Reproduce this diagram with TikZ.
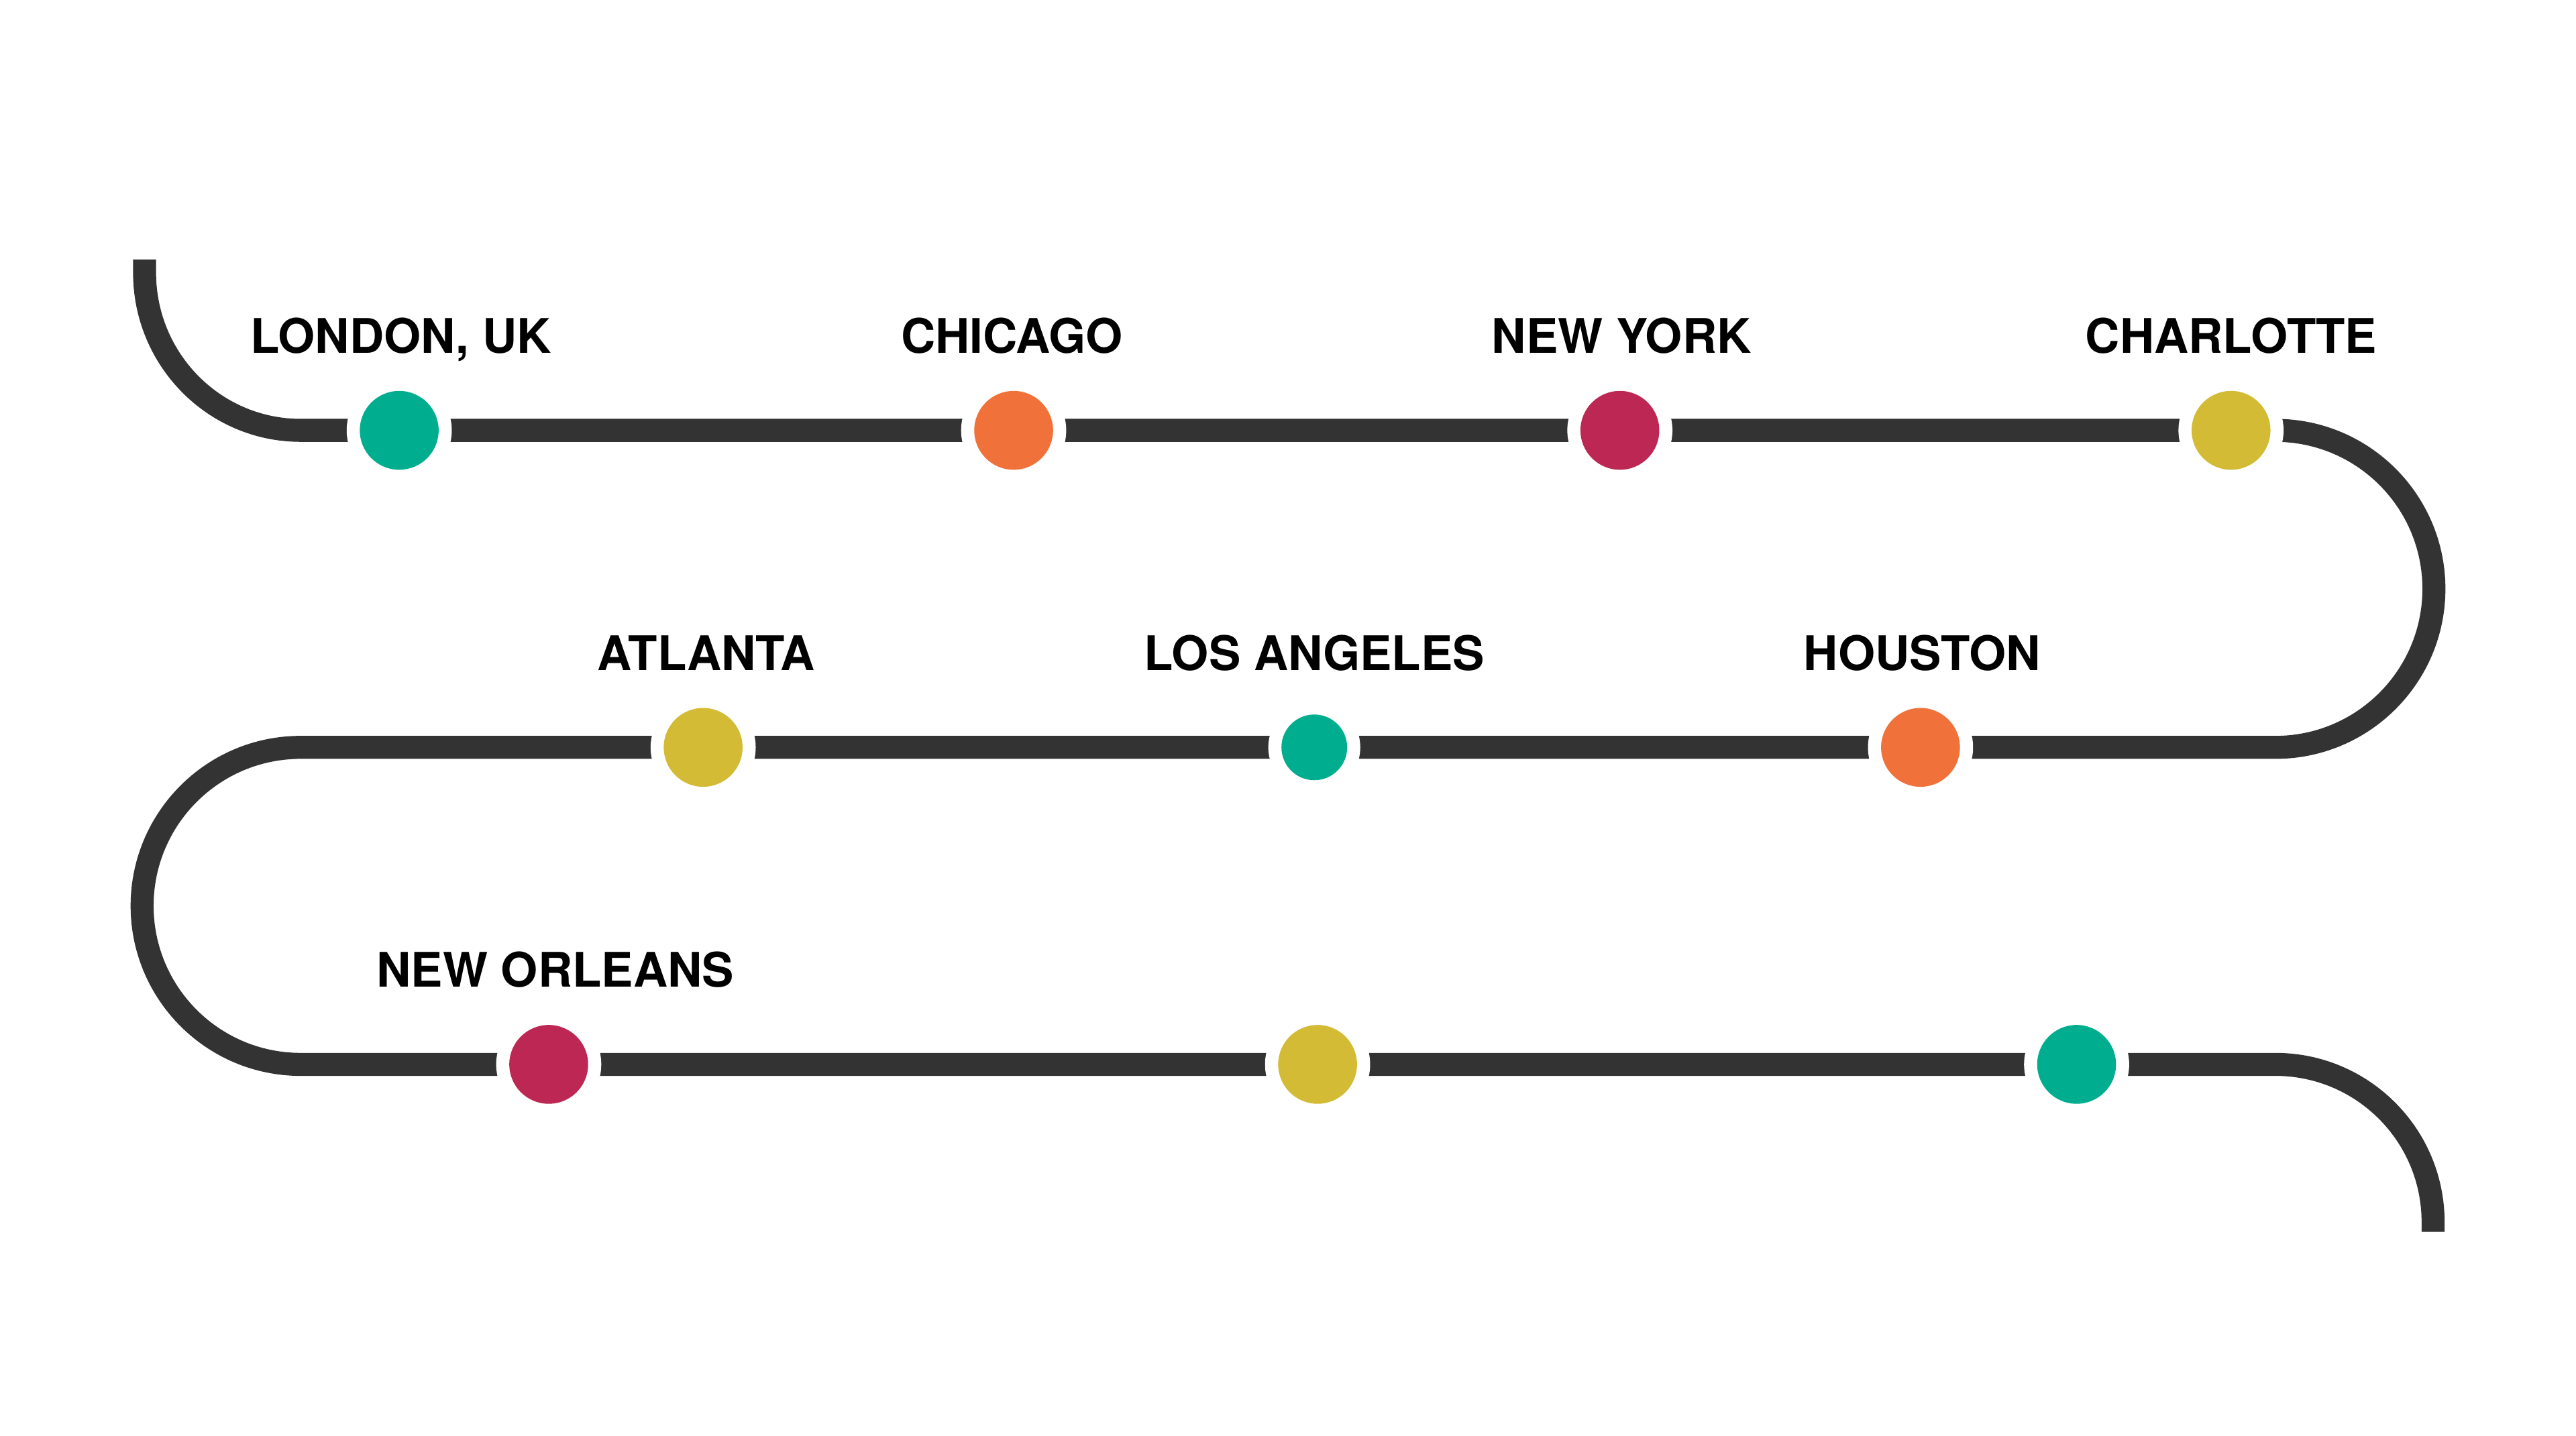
\documentclass[tikz,border=0pt]{standalone}
\usepackage{fontspec}
\setmainfont{TeX Gyre Heros}
\definecolor{teal}{HTML}{00AE8F}
\definecolor{orng}{HTML}{F1713A}
\definecolor{crim}{HTML}{BC2853}
\definecolor{yell}{HTML}{D4BB35}
\definecolor{track}{HTML}{333333}
\begin{document}
\begin{tikzpicture}[x=0.02cm,y=-0.02cm,
  trackline/.style={draw=track,line width=14*0.02cm},
  gap/.style={circle,fill=white,inner sep=0pt,minimum size=#1*0.04cm},
  dot/.style={circle,fill=#1,inner sep=0pt,minimum size=48*0.02cm},
  lbl/.style={font=\bfseries\fontsize{16.5}{20}\selectfont,text=black,anchor=base,inner sep=0pt}]
\useasboundingbox (0,0) rectangle (1568,874);
\coordinate (s) at (88,158);
\coordinate (e) at (1481,750);
\draw[trackline] (s) -- (88,166) arc[start angle=180,end angle=270,x radius=95,y radius=-96]
  -- (1385,262) arc[start angle=90,end angle=-90,x radius=96.5,y radius=-96.5]
  -- (183,455) arc[start angle=90,end angle=270,x radius=96.5,y radius=-96.5]
  -- (1385,648) arc[start angle=90,end angle=0,x radius=96,y radius=-96] -- (e);
\foreach \n/\x/\y/\c/\r in {a/243/262/teal/32,b/617/262/orng/32,c/986/262/crim/32,d/1358/262/yell/32,
  e1/428/455/yell/32,f/800/455/teal/28,g/1169/455/orng/32,h/334/648/crim/32,i/802/648/yell/32,j/1264/648/teal/32}{
  \node[gap=\r] at (\x,\y) {};
}
\foreach \n/\x/\y/\c in {a/243/262/teal,b/617/262/orng,c/986/262/crim,d/1358/262/yell,
  e1/428/455/yell,g/1169/455/orng,h/334/648/crim,i/802/648/yell,j/1264/648/teal}{
  \node[dot=\c] (\n) at (\x,\y) {};
}
\node[circle,fill=teal,inner sep=0pt,minimum size=40*0.02cm] (f) at (800,455) {};
\node[lbl] at (244,215) {LONDON, UK};
\node[lbl] at (616,215) {CHICAGO};
\node[lbl] at (987,215) {NEW YORK};
\node[lbl] at (1358,215) {CHARLOTTE};
\node[lbl] at (430,408) {ATLANTA};
\node[lbl] at (800,408) {LOS ANGELES};
\node[lbl] at (1170,408) {HOUSTON};
\node[lbl] at (338,601) {NEW ORLEANS};
\end{tikzpicture}
\end{document}
